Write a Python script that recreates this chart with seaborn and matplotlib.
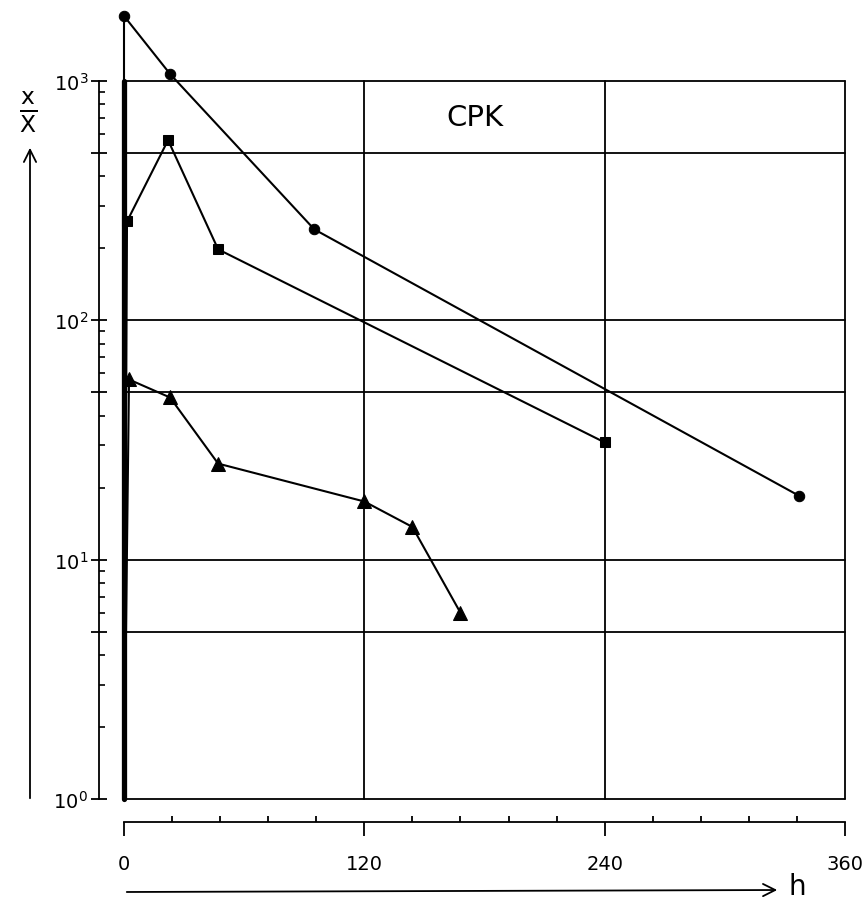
import matplotlib
matplotlib.use("Agg")
import matplotlib.pyplot as plt
import seaborn as sns
from matplotlib.ticker import FixedLocator, NullFormatter

# valori (ore, x/X medio); a t=0 il valore vale 1
ore_cerchi = [0, 0, 23, 95, 337]
val_cerchi = [1, 1870, 1070, 240, 18.5]
ore_quadrati = [0, 1.5, 22, 47, 240]
val_quadrati = [1, 259, 566, 198, 30.9]
ore_triangoli = [0, 2.5, 23, 47, 120, 144, 168]
val_triangoli = [1, 56.6, 47.6, 25.2, 17.5, 13.7, 6.0]

tick_x = [0, 120, 240, 360]
etichette_x = ['0', '120', '240', '360']
minor_x = [24, 48, 72, 96, 144, 168, 192, 216, 264, 288, 312, 336]
tick_y = [1, 5, 10, 50, 100, 500, 1000]
etichette_y = ['$10^{0}$', '', '$10^{1}$', '', '$10^{2}$', '', '$10^{3}$']
minor_y = [2, 3, 4, 6, 7, 8, 9, 20, 30, 40, 60, 70, 80, 90, 200, 300, 400, 600, 700, 800, 900]

sns.set_style("white")
plt.rcParams['font.family'] = ['DejaVu Sans']
plt.rcParams['mathtext.fontset'] = 'dejavusans'
plt.rcParams['text.color'] = 'black'
plt.rcParams['xtick.color'] = 'black'
plt.rcParams['ytick.color'] = 'black'

fig = plt.figure(figsize=(8.68, 9.03), dpi=100)
ax = fig.add_axes([124 / 868, 1 - 800 / 903, 721 / 868, 718 / 903])

serie = [
    (ore_cerchi, val_cerchi, 'o', 7.5),
    (ore_quadrati, val_quadrati, 's', 7),
    (ore_triangoli, val_triangoli, '^', 9.5),
]
for ore, val, m, ms in serie:
    sns.lineplot(x=ore, y=val, ax=ax, estimator=None, sort=False, color='black',
                 lw=1.5, marker=m, markersize=ms, markevery=slice(1, None),
                 markeredgecolor='black', clip_on=False, zorder=5)

ax.set_yscale('log')
ax.set_xlim(0, 360)
ax.set_ylim(1, 1000)

# griglia disegnata a mano
for y in tick_y:
    ax.axhline(y, color='black', lw=1.3, zorder=2, clip_on=False)
for x in tick_x[1:]:
    ax.axvline(x, color='black', lw=1.3, zorder=2, clip_on=False)
ax.axvline(0, color='black', lw=3.8, zorder=3, clip_on=False)

ax.spines['top'].set_visible(False)
ax.spines['right'].set_visible(False)
ax.spines['left'].set_position(('outward', 18))
ax.spines['bottom'].set_position(('outward', 16.5))
for s in ['left', 'bottom']:
    ax.spines[s].set_color('black')
    ax.spines[s].set_linewidth(1.3)

ax.set_xticks(tick_x, labels=etichette_x)
ax.xaxis.set_minor_locator(FixedLocator(minor_x))
ax.set_yticks(tick_y, labels=etichette_y)
ax.yaxis.set_minor_locator(FixedLocator(minor_y))
ax.yaxis.set_minor_formatter(NullFormatter())

ax.tick_params(axis='x', which='major', direction='out', length=10, width=1.3,
               pad=13, labelsize=14, bottom=True, colors='black')
ax.tick_params(axis='x', which='minor', direction='in', length=4, width=1.3, bottom=True)
ax.tick_params(axis='y', which='major', direction='inout', length=11.5, width=1.3,
               pad=2, labelsize=14, left=True, colors='black')
ax.tick_params(axis='y', which='minor', direction='in', length=4, width=1.2, left=True)
ax.set_xlabel('')
ax.set_ylabel('')

ax.text(175, 706, 'CPK', fontsize=21, ha='center', va='center', color='black')

# frecce degli assi
ax.annotate('', xy=(780, 903 - 891), xytext=(124, 903 - 893), xycoords='figure pixels',
            textcoords='figure pixels',
            arrowprops=dict(arrowstyle='->', lw=1.3, color='black', mutation_scale=22))
ax.annotate('', xy=(30, 903 - 146), xytext=(30, 903 - 802), xycoords='figure pixels',
            textcoords='figure pixels',
            arrowprops=dict(arrowstyle='->', lw=1.3, color='black', mutation_scale=22))
fig.text(797 / 868, 1 - 887 / 903, 'h', fontsize=20, ha='center', va='center', color='black')
fig.text(28 / 868, 1 - 112 / 903, r'$\frac{\mathrm{x}}{\mathrm{X}}$', fontsize=24,
         ha='center', va='center', color='black')

fig.savefig('out.png', dpi=100)
